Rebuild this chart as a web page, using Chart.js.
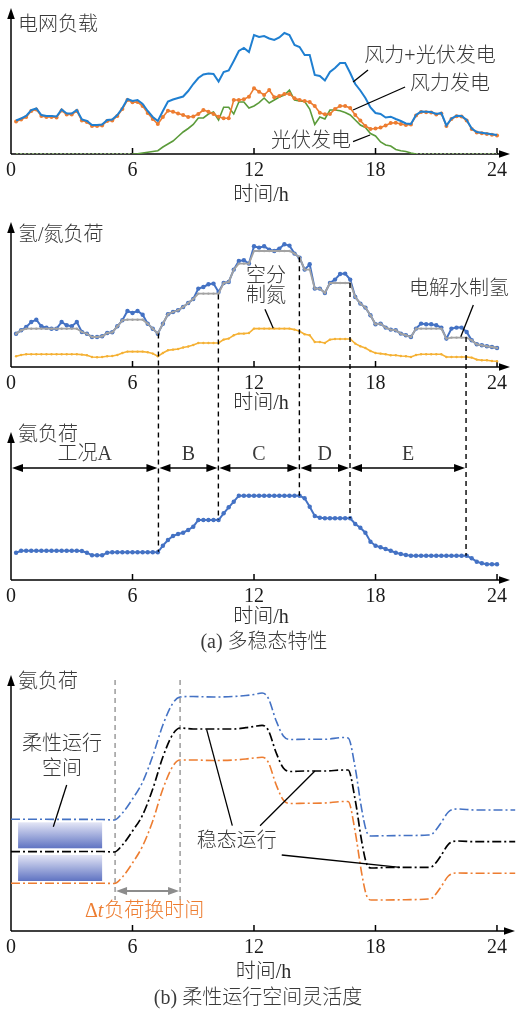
<!DOCTYPE html>
<html><head><meta charset="utf-8">
<script src="https://cdn.jsdelivr.net/npm/chart.js@4.4.1/dist/chart.umd.min.js"></script>
<style>
html,body{margin:0;padding:0;background:#fff;}
#wrap{position:relative;width:516px;height:1013px;overflow:hidden;background:#fff;}
canvas{position:absolute;left:0;top:0;}
</style></head><body>
<div id="wrap">
<canvas id="c1" width="516" height="1013"></canvas>
<canvas id="c2" width="516" height="1013"></canvas>
<canvas id="c3" width="516" height="1013"></canvas>
<canvas id="c4" width="516" height="1013"></canvas>
</div>
<script>
// ---------- data ----------
const X_TICKS = [0, 6, 12, 18, 24];
const X_TICK_LABELS = ['0', '6', '12', '18', '24'];
const X_TITLE = '时间/h';

const TIME_Q = [
  0.25, 0.5, 0.75, 1,
  1.25, 1.5, 1.75, 2,
  2.25, 2.5, 2.75, 3,
  3.25, 3.5, 3.75, 4,
  4.25, 4.5, 4.75, 5,
  5.25, 5.5, 5.75, 6,
  6.25, 6.5, 6.75, 7,
  7.25, 7.5, 7.75, 8,
  8.25, 8.5, 8.75, 9,
  9.25, 9.5, 9.75, 10,
  10.25, 10.5, 10.75, 11,
  11.25, 11.5, 11.75, 12,
  12.25, 12.5, 12.75, 13,
  13.25, 13.5, 13.75, 14,
  14.25, 14.5, 14.75, 15,
  15.25, 15.5, 15.75, 16,
  16.25, 16.5, 16.75, 17,
  17.25, 17.5, 17.75, 18,
  18.25, 18.5, 18.75, 19,
  19.25, 19.5, 19.75, 20,
  20.25, 20.5, 20.75, 21,
  21.25, 21.5, 21.75, 22,
  22.25, 22.5, 22.75, 23,
  23.25, 23.5, 23.75, 24
];

// panel 1: grid load
const GRID_WIND_SOLAR = [
  33.5, 35.5, 38, 44,
  45.5, 39, 38, 38,
  37.5, 44.5, 40.5, 40.5,
  44, 34.5, 33, 29,
  29, 29.5, 34, 34.5,
  39, 46, 55, 53,
  54, 50, 43, 37,
  33, 43, 52.5, 54.5,
  56, 57.5, 63, 70,
  76, 79.5, 80.5, 80,
  72.5, 82, 83.5, 93,
  103, 106, 102, 119,
  117, 118, 115.5, 114,
  116.5, 121, 119, 109,
  107, 99, 99, 79,
  78, 73.5, 82, 86,
  91, 91, 81, 70,
  63.5, 56, 46.5, 41,
  40, 36.5, 37.3, 35,
  33, 30.5, 30, 39,
  42.5, 42.3, 42, 40,
  41, 28.5, 35.5, 38.3,
  38, 34, 25.5, 22,
  21.2, 20.5, 19.7, 19
];
const GRID_WIND = [
  32.5, 34.5, 37, 43,
  44.5, 38, 37, 37,
  36.5, 43.5, 39.5, 39.5,
  43, 33.5, 32, 28,
  28, 28.5, 33, 33.5,
  38, 45, 54, 51.7,
  52, 48, 41, 35,
  30, 37, 43.3, 42.3,
  40.5, 39, 37, 37.5,
  40, 44, 42.3, 40,
  37.3, 35.7, 35.7, 54,
  54, 54.7, 57.3, 65.7,
  62.3, 59, 64, 56.7,
  58, 60, 60, 55.7,
  54, 53, 52, 48,
  41.3, 39.7, 40, 45,
  48, 48, 46, 39,
  33.5, 28, 25, 25.5,
  26.5, 28.5, 31, 31.3,
  30, 29, 29.5, 38.5,
  42, 41.8, 41.5, 39.5,
  40.5, 28, 35, 37.8,
  37.5, 33.5, 25, 21.5,
  20.7, 20, 19.2, 18.5
];
const GRID_SOLAR = [
  0, 0, 0, 0,
  0, 0, 0, 0,
  0, 0, 0, 0,
  0, 0, 0, 0,
  0, 0, 0, 0,
  0, 0, 0, 0,
  0.3, 1, 1.8, 2.5,
  3.3, 7, 10, 13,
  17.5, 22, 25.5, 29.5,
  36, 36, 40, 42,
  34, 46.7, 46.7, 40,
  52, 52, 46, 48,
  51.3, 56, 51, 54,
  57, 59, 64, 54,
  53, 52.5, 45, 29.5,
  37, 35, 44, 44,
  43.3, 41.5, 39, 34,
  29, 26.5, 20.5, 18,
  12, 9, 8, 4.5,
  3.3, 2.5, 1, 0,
  0, 0, 0, 0,
  0, 0, 0, 0,
  0, 0, 0, 0,
  0, 0, 0, 0
];

// panel 2: hydrogen / nitrogen load
const H2_LOAD = [
  33.3, 36.7, 40, 45,
  47.3, 40.7, 39.3, 38.3,
  38.3, 45, 41.7, 40.7,
  45, 35, 33.3, 30,
  30, 30.7, 34, 34.7,
  40.7, 46.7, 56, 54,
  56, 52.3, 43.3, 38.3,
  33.3, 43.3, 52.7, 55,
  56.7, 60, 64, 68,
  78.4, 80, 82.7, 83.4,
  75, 84, 85, 97.4,
  106, 106.7, 103.4, 120.7,
  119.4, 120.7, 117.4, 116,
  118.4, 122.7, 121.4, 113.4,
  109.4, 97.4, 102.7, 78.4,
  78.4, 74, 84, 87.4,
  93, 93.4, 87.4, 70,
  63.4, 59.4, 51.7, 42.7,
  43.4, 39.4, 37.4, 36.7,
  33.4, 31.7, 30, 38.4,
  43.4, 42.7, 42.7, 41.7,
  39.4, 28.4, 38.4, 39.4,
  39.4, 35, 26.7, 22.7,
  21.7, 20.7, 20, 19
];
const H2_STEADY = [
  33.3, 36.7, 38.3, 38.3,
  38.3, 38.3, 38.3, 38.3,
  38.3, 38.3, 38.3, 38.3,
  38.3, 35, 33.3, 30,
  30, 30.7, 34, 34.7,
  40.7, 46.7, 47.3, 47.3,
  47.3, 47.3, 43.3, 38.3,
  33.3, 43.3, 52.7, 55,
  56.7, 60, 64, 68,
  73.4, 73.4, 73.4, 73.4,
  73.4, 84, 85, 97.4,
  103.4, 103.4, 103.4, 116,
  116, 116, 116, 116,
  116, 116, 116, 113.4,
  109.4, 97.4, 97.4, 78.4,
  78.4, 74, 84, 84,
  84, 84, 84, 70,
  63.4, 59.4, 51.7, 42.7,
  43.4, 39.4, 37.4, 36.7,
  33.4, 31.7, 30, 38.4,
  38.4, 38.4, 38.4, 38.4,
  38.4, 28.4, 29.4, 29.4,
  29.4, 29.4, 26.7, 22.7,
  21.7, 20.7, 20, 19
];
const N2_LOAD = [
  10.7, 12, 12.7, 12.7,
  12.7, 12.7, 12.7, 12.7,
  12.7, 12.7, 12.7, 12.7,
  12.7, 12.4, 11.7, 10,
  9.7, 10, 10.7, 11,
  12, 14, 15.4, 15.4,
  15.4, 15.4, 14.7, 13.4,
  10.7, 14, 16.7, 17.4,
  18, 19.5, 20.5, 22,
  24, 24, 24, 24,
  24, 27.4, 28.4, 31.7,
  33.4, 33.4, 34, 38.4,
  38.4, 38.4, 38.4, 38.4,
  38.4, 38.4, 38.4, 37.4,
  35.7, 32.7, 31.7, 25,
  25, 24, 27.4, 28,
  28, 28, 28, 23.4,
  20.7, 19, 16, 14,
  13.4, 12.7, 11.7, 11.7,
  11, 10.7, 10, 12,
  12.7, 12.7, 12.7, 12.7,
  12.7, 10, 10, 10,
  10, 10, 9.4, 7.4,
  6.7, 6.7, 6, 5.7
];

// panel 3: ammonia load, operating modes
const NH3_LOAD = [
  27.3, 29.3, 29.3, 29.3,
  29.3, 29.3, 29.3, 29.3,
  29.3, 29.3, 29.3, 29.3,
  29.3, 29, 27.3, 24.7,
  24.7, 24.7, 27.3, 27.7,
  27.7, 27.7, 27.7, 27.7,
  27.7, 27.7, 27.7, 27.7,
  27.7, 34.3, 40, 44,
  46, 47.3, 50, 53.3,
  60, 60, 60, 60,
  60, 66.7, 72.7, 78.3,
  84.3, 84.3, 84.3, 84.3,
  84.3, 84.3, 84.3, 84.3,
  84.3, 84.3, 84.3, 84.3,
  84.3, 81.7, 73.3, 64,
  62.3, 61.7, 61.7, 61.7,
  61.7, 61.7, 61.7, 56,
  52.3, 47.3, 38.3, 34.3,
  32.7, 31, 29.3, 27.3,
  26, 25, 24.3, 24.3,
  24.3, 24.3, 24.3, 24.3,
  24.3, 24.3, 24.3, 24.3,
  24.3, 24.3, 21.7, 18.3,
  16.7, 15.7, 15.7, 15.7
];
const MODE_LABELS = ['工况A', 'B', 'C', 'D', 'E'];
const MODE_BOUNDS = [0, 7.28, 10.24, 14.24, 16.74, 22.47];
const BOUND_TOP_H2 = [33.4, 72.4, 109.7, 84, 30];
const BOUND_BOTTOM_NH3 = [28.3, 60, 84.3, 61.7, 24.3];

// panel 4: flexible operating space
const TIME_B = [0, 4.5, 5.1, 5.5, 6, 6.5, 7, 7.5, 8, 8.35, 9, 10, 11, 11.6, 12, 12.4, 12.7, 13.1, 13.45, 13.8,
  14.5, 15.5, 16.4, 16.65, 17, 17.3, 17.55, 17.8, 18.5, 19.5, 20.6, 20.8, 21.2, 21.6, 22, 23, 24, 24.9];
const NH3_UPPER = [111.7, 111.5, 111, 118, 132, 149, 175, 206, 228, 234, 234.5, 234, 234.5, 235.5, 236.5, 238, 233, 210, 195, 191.5,
  191.7, 191.7, 193.5, 193, 163, 124, 100, 95, 95.3, 95.5, 96, 97, 107, 119, 122, 121, 121, 121];
const NH3_STEADY = [79.3, 79.5, 79, 86, 100, 116, 142, 174, 197, 203, 202, 202, 202, 203.3, 204.5, 205.7, 201, 178, 163, 159.5,
  160, 160, 161, 161, 131, 92, 68, 63, 63.5, 63.7, 63.7, 64.5, 74.3, 86.7, 90, 89.3, 89.3, 89.3];
const NH3_LOWER = [47.7, 47.8, 47.5, 54, 68, 85, 110, 142, 165, 171, 171, 170.5, 171, 172, 173, 173.7, 169, 146, 131, 127.5,
  127.7, 128, 129.5, 129.5, 99, 60, 36, 31, 31, 31.3, 32, 33, 43, 55, 58, 57.7, 57.7, 57.7];
const SWITCH_WINDOW = [5.14, 8.35];

// ---------- helpers ----------
const FONT = "'Liberation Serif','Noto Sans CJK SC',serif";
const WEIGHT = '300';
const TXT = '#3a3a3a';
function pts(xs, ys) { return xs.map((x, i) => ({x: x, y: ys[i]})); }
function P(c, h, v) { return [c.scales.x.getPixelForValue(h), c.scales.y.getPixelForValue(v)]; }
function text(ctx, s, x, y, align, color, size, style) {
  ctx.save();
  ctx.font = (style || '') + ' ' + WEIGHT + ' ' + (size || 20) + 'px ' + FONT;
  ctx.fillStyle = color || TXT; ctx.textAlign = align || 'center'; ctx.textBaseline = 'middle';
  ctx.fillText(s, x, y); ctx.restore();
}
function seg(ctx, a, b, color, w, dash) {
  ctx.save(); ctx.strokeStyle = color || '#000'; ctx.lineWidth = w || 1.3;
  ctx.setLineDash(dash || []);
  ctx.beginPath(); ctx.moveTo(a[0], a[1]); ctx.lineTo(b[0], b[1]); ctx.stroke(); ctx.restore();
}
function head(ctx, x, y, dx, dy, color, len, half) {
  ctx.save(); ctx.fillStyle = color || '#000';
  const px = -dy, py = dx;
  ctx.beginPath(); ctx.moveTo(x, y);
  ctx.lineTo(x - dx * len + px * half, y - dy * len + py * half);
  ctx.lineTo(x - dx * len - px * half, y - dy * len - py * half);
  ctx.closePath(); ctx.fill(); ctx.restore();
}
function dblArrow(ctx, x1, x2, y, color, w) {
  seg(ctx, [x1 + 4, y], [x2 - 4, y], color, w);
  head(ctx, x1, y, -1, 0, color, 11, 4);
  head(ctx, x2, y, 1, 0, color, 11, 4);
}
const axesPlugin = {
  id: 'axesArrows',
  beforeDatasetsDraw(c) {
    const ctx = c.ctx, a = c.chartArea;
    const tip = a.right - 1;
    seg(ctx, [a.left, a.bottom], [tip - 6, a.bottom], '#000', 1.5);
    seg(ctx, [a.left, a.bottom], [a.left, a.top + 6], '#000', 1.5);
    head(ctx, tip, a.bottom, 1, 0, '#000', 11, 3.8);
    head(ctx, a.left, a.top, 0, -1, '#000', 11, 3.8);
    for (const v of X_TICKS) {
      if (v === 0) continue;
      const x = c.scales.x.getPixelForValue(v);
      seg(ctx, [x, a.bottom], [x, a.bottom - 6], '#000', 1.5);
    }
  }
};
function options(yMax, pad, xMax, xHeight) {
  return {
    responsive: false, animation: false, devicePixelRatio: 1, events: [],
    layout: {padding: pad},
    plugins: {legend: {display: false}, tooltip: {enabled: false}},
    scales: {
      x: {
        type: 'linear', min: 0, max: xMax,
        grid: {display: false, drawTicks: false}, border: {display: false},
        ticks: {padding: 5, color: '#1a1a1a', font: {size: 20, family: FONT}, maxRotation: 0, autoSkip: false,
          callback: (v) => { const i = X_TICKS.indexOf(v); return i >= 0 ? X_TICK_LABELS[i] : ''; }},
        afterBuildTicks: (s) => { s.ticks = X_TICKS.map(v => ({value: v})); },
        afterFit: (s) => { s.height = xHeight; },
        title: {display: true, text: X_TITLE, color: '#2a2a2a', font: {size: 20, family: FONT, weight: WEIGHT}, padding: 0}
      },
      y: {display: false, min: 0, max: yMax}
    }
  };
}
Chart.defaults.font.family = FONT;

// ---------- panel 1 ----------
const c1 = new Chart(document.getElementById('c1'), {
  type: 'line',
  data: {datasets: [
    {data: pts(TIME_Q, GRID_WIND_SOLAR), borderColor: '#1f7fd1', borderWidth: 2, pointRadius: 0},
    {data: pts(TIME_Q, GRID_WIND), borderColor: '#ed7d31', borderWidth: 1.6, pointRadius: 2,
      pointBackgroundColor: '#ed7d31', pointBorderWidth: 0},
    {data: pts(TIME_Q, GRID_SOLAR), borderColor: '#5b9b3a', borderWidth: 1.6, pointRadius: 0,
      segment: {
        borderColor: (s) => (s.p0.parsed.y === 0 && s.p1.parsed.y === 0) ? '#a5d38a' : '#5b9b3a',
        borderDash: (s) => (s.p0.parsed.y === 0 && s.p1.parsed.y === 0) ? [2, 2] : []
      }}
  ]},
  options: options(146, {left: 11, right: 5, top: 8, bottom: 805}, 24.69, 54),
  plugins: [axesPlugin, {
    id: 'ann1',
    afterDatasetsDraw(c) {
      const ctx = c.ctx, a = c.chartArea;
      text(ctx, '电网负载', a.left + 7, a.top + 18, 'left');
      seg(ctx, P(c, 16.89, 72), P(c, 17.63, 84));
      text(ctx, '风力+光伏发电', ...P(c, 20.69, 97));
      seg(ctx, P(c, 16.89, 44), P(c, 19.46, 67));
      text(ctx, '风力发电', ...P(c, 21.68, 69));
      seg(ctx, P(c, 16.89, 12.3), P(c, 17.73, 19));
      text(ctx, '光伏发电', ...P(c, 14.81, 12));
    }
  }]
});

// ---------- panel 2 ----------
const c2 = new Chart(document.getElementById('c2'), {
  type: 'line',
  data: {datasets: [
    {data: pts(TIME_Q, H2_STEADY), borderColor: '#a3a3a3', borderWidth: 1.8, pointRadius: 1.2,
      pointBackgroundColor: '#a3a3a3', pointBorderWidth: 0},
    {data: pts(TIME_Q, H2_LOAD), borderColor: '#4472c4', borderWidth: 2, pointRadius: 2.2,
      pointBackgroundColor: '#4472c4', pointBorderWidth: 0},
    {data: pts(TIME_Q, N2_LOAD), borderColor: '#f5b134', borderWidth: 1.6, pointRadius: 1.2,
      pointBackgroundColor: '#f5b134', pointBorderWidth: 0}
  ]},
  options: options(145, {left: 11, right: 5, top: 222, bottom: 597}, 24.69, 49),
  plugins: [axesPlugin, {
    id: 'ann2',
    afterDatasetsDraw(c) {
      const ctx = c.ctx, a = c.chartArea;
      text(ctx, '氢/氮负荷', a.left + 7, a.top + 14, 'left');
      text(ctx, '空分', ...P(c, 12.59, 90.3));
      text(ctx, '制氮', ...P(c, 12.59, 70.3));
      seg(ctx, P(c, 12.54, 57.7), P(c, 12.95, 38.7));
      text(ctx, '电解水制氢', ...P(c, 22.12, 77));
      seg(ctx, P(c, 22.83, 62), P(c, 22.21, 30.3));
    }
  }]
});

// ---------- panel 3 ----------
const c3 = new Chart(document.getElementById('c3'), {
  type: 'line',
  data: {datasets: [
    {data: pts(TIME_Q, NH3_LOAD), borderColor: '#4472c4', borderWidth: 2, pointRadius: 2.2,
      pointBackgroundColor: '#4472c4', pointBorderWidth: 0}
  ]},
  options: options(148, {left: 11, right: 5, top: 432, bottom: 383}, 24.69, 50),
  plugins: [axesPlugin, {
    id: 'ann3',
    afterDatasetsDraw(c) {
      const ctx = c.ctx, a = c.chartArea;
      text(ctx, '氨负荷', a.left + 7, a.top + 4, 'left');
      for (let i = 1; i < MODE_BOUNDS.length; i++) {
        const h = MODE_BOUNDS[i];
        const x = c.scales.x.getPixelForValue(h);
        const yTop = c2.scales.y.getPixelForValue(BOUND_TOP_H2[i - 1]);
        const yBot = c.scales.y.getPixelForValue(BOUND_BOTTOM_NH3[i - 1]);
        seg(ctx, [x, yTop], [x, yBot], '#000', 1.4, [5, 4]);
      }
      const yArr = c.scales.y.getPixelForValue(112);
      const yLab = c.scales.y.getPixelForValue(125);
      for (let i = 0; i < MODE_LABELS.length; i++) {
        const x1 = c.scales.x.getPixelForValue(MODE_BOUNDS[i]);
        const x2 = c.scales.x.getPixelForValue(MODE_BOUNDS[i + 1]);
        dblArrow(ctx, x1 + 1, x2 - 1, yArr, '#000', 1.4);
        text(ctx, MODE_LABELS[i], (x1 + x2) / 2, yLab, 'center');
      }
      text(ctx, '(a) 多稳态特性', 264, a.bottom + 63, 'center');
    }
  }]
});

// ---------- panel 4 ----------
const DASHDOT = [9, 3, 2, 3];
const c4 = new Chart(document.getElementById('c4'), {
  type: 'line',
  data: {datasets: [
    {data: pts(TIME_B, NH3_STEADY), borderColor: '#000', borderWidth: 1.7, pointRadius: 0,
      borderDash: DASHDOT, cubicInterpolationMode: 'monotone'},
    {data: pts(TIME_B, NH3_UPPER), borderColor: '#4472c4', borderWidth: 1.6, pointRadius: 0,
      borderDash: DASHDOT, cubicInterpolationMode: 'monotone'},
    {data: pts(TIME_B, NH3_LOWER), borderColor: '#ed7d31', borderWidth: 1.6, pointRadius: 0,
      borderDash: DASHDOT, cubicInterpolationMode: 'monotone'}
  ]},
  options: options(256, {left: 11, right: 0, top: 675, bottom: 28}, 24.94, 54),
  plugins: [axesPlugin, {
    id: 'boxes4',
    beforeDatasetsDraw(c) {
      const ctx = c.ctx;
      const boxes = [[108.7, 82.7], [76, 50]];
      for (const [vTop, vBot] of boxes) {
        const [x1, y1] = P(c, 0.35, vTop), [x2, y2] = P(c, 4.5, vBot);
        const g = ctx.createLinearGradient(0, y1, 0, y2);
        g.addColorStop(0, '#e4e6f6'); g.addColorStop(1, '#5f73c2');
        ctx.save(); ctx.fillStyle = g; ctx.fillRect(x1, y1, x2 - x1, y2 - y1); ctx.restore();
      }
      for (const h of SWITCH_WINDOW) {
        seg(ctx, P(c, h, 251), P(c, h, 31), '#8c8c8c', 1.3, [5, 4]);
      }
    },
    afterDatasetsDraw(c) {
      const ctx = c.ctx, a = c.chartArea;
      text(ctx, '氨负荷', a.left + 7, a.top + 8, 'left');
      text(ctx, '柔性运行', ...P(c, 2.52, 186));
      text(ctx, '空间', ...P(c, 2.52, 161));
      seg(ctx, P(c, 2.75, 146), P(c, 2.09, 104.3));
      text(ctx, '稳态运行', ...P(c, 11.15, 89.3));
      seg(ctx, P(c, 10.93, 105.3), P(c, 9.66, 201.7));
      seg(ctx, P(c, 12.30, 105.3), P(c, 15.01, 160));
      seg(ctx, P(c, 13.37, 76), P(c, 19.21, 63.7));
      const [xa, ya] = P(c, SWITCH_WINDOW[0], 40), [xb] = P(c, SWITCH_WINDOW[1], 40);
      dblArrow(ctx, xa + 1, xb - 1, ya, '#8c8c8c', 2);
      const [lx, ly] = P(c, 3.65, 19.3);
      ctx.save();
      ctx.font = WEIGHT + ' 20px ' + FONT;
      const w1 = ctx.measureText('Δ').width;
      ctx.font = 'italic ' + WEIGHT + ' 20px ' + FONT;
      const w2 = ctx.measureText('t').width;
      ctx.restore();
      text(ctx, 'Δ', lx, ly, 'left', '#ed7d31');
      text(ctx, 't', lx + w1, ly, 'left', '#ed7d31', 20, 'italic');
      text(ctx, '负荷换时间', lx + w1 + w2 + 1, ly, 'left', '#ed7d31');
      text(ctx, '(b) 柔性运行空间灵活度', 258, a.bottom + 68, 'center');
    }
  }]
});
</script>
</body></html>
